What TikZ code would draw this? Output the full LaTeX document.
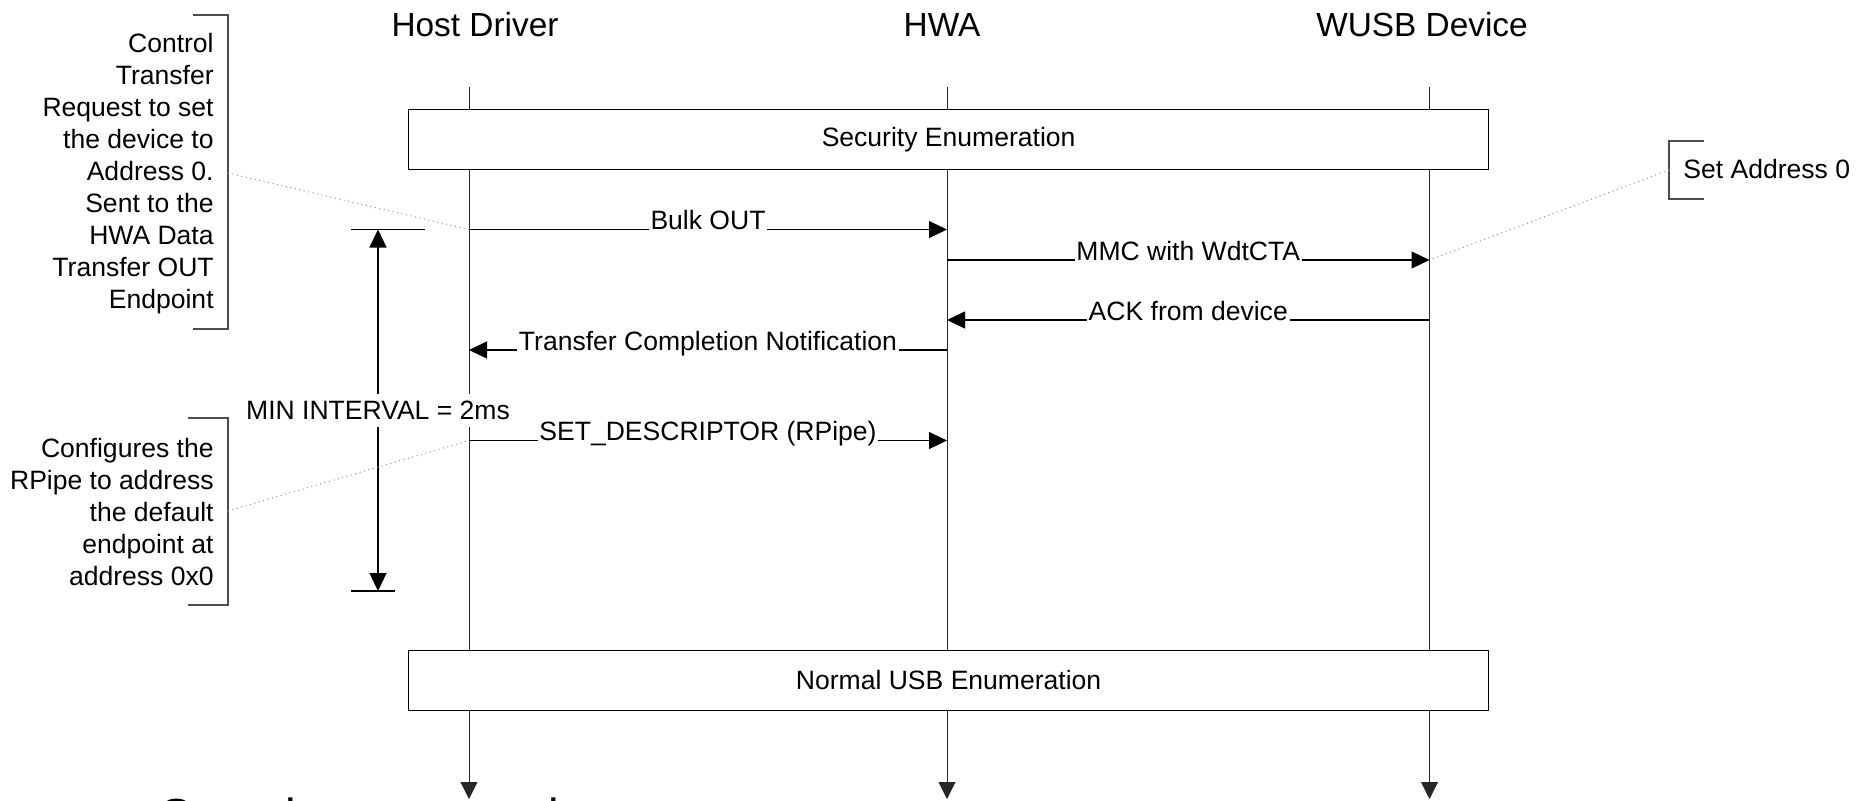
\documentclass[tikz,border=0pt]{standalone}
\usepackage{fontspec}
\setmainfont{Liberation Sans}
\usetikzlibrary{arrows.meta}

\begin{document}
\begin{tikzpicture}[x=0.2mm, y=-0.2mm,
    every node/.style={font=\fontsize{15.1}{18.2}\selectfont},
    head/.style={font=\fontsize{19}{22}\selectfont, anchor=base},
    msg/.style={line width=0.6pt, -{Triangle[length=3.6mm, width=3.4mm]}},
    life/.style={line width=0.5pt, black!85, -{Triangle[length=3.4mm, width=3.4mm]}},
    lbl/.style={fill=white, inner xsep=1pt, inner ysep=1.2pt, anchor=base},
    phase/.style={draw, fill=white, line width=0.6pt, minimum width=21.6cm, minimum height=1.19cm},
    brk/.style={draw=black!70, line width=0.6pt},
    note/.style={black!40, dotted, line width=0.6pt},
    side/.style={anchor=east, align=right, inner sep=0pt}]
    \clip (0,0) rectangle (1857,800);

    \node[head] (host) at (475,36.5) {Host Driver};
    \node[head] (hwa) at (942,36.5) {HWA};
    \node[head] (dev) at (1422,36.5) {WUSB Device};

    \coordinate (hl0) at (469,87);
    \coordinate (hl1) at (469,799);
    \coordinate (al0) at (947,87);
    \coordinate (al1) at (947,799);
    \coordinate (dl0) at (1429.5,87);
    \coordinate (dl1) at (1429.5,799);
    \draw[life] (hl0) -- (hl1);
    \draw[life] (al0) -- (al1);
    \draw[life] (dl0) -- (dl1);

    \node[phase] (sec) at (948.6,139.7) {Security Enumeration};
    \node[phase] (usb) at (948.6,680.3) {Normal USB Enumeration};

    \coordinate (m1) at (0,229.5);
    \coordinate (m2) at (0,260);
    \coordinate (m3) at (0,320);
    \coordinate (m4) at (0,350);
    \coordinate (m5) at (0,440.5);
    \draw[msg] (hl0 |- m1) -- (al0 |- m1) node[lbl, midway] {Bulk OUT};
    \draw[msg] (al0 |- m2) -- (dl0 |- m2) node[lbl, midway] {MMC with WdtCTA};
    \draw[msg] (dl0 |- m3) -- (al0 |- m3) node[lbl, midway] {ACK from device};
    \draw[msg] (al0 |- m4) -- (hl0 |- m4) node[lbl, midway] {Transfer Completion Notification};
    \draw[msg] (hl0 |- m5) -- (al0 |- m5) node[lbl, midway] {SET\_DESCRIPTOR (RPipe)};

    \draw[line width=0.6pt] (351,229.5) -- (425,229.5);
    \draw[line width=0.6pt] (351,591) -- (395,591);
    \coordinate (iv0) at (378,229.5);
    \coordinate (iv1) at (378,591);
    \draw[line width=0.6pt, {Triangle[length=3.6mm, width=3.4mm]}-{Triangle[length=3.6mm, width=3.4mm]}] (iv0) -- (iv1)
        node[midway, fill=white, inner xsep=1pt, inner ysep=4pt] (iv) {MIN INTERVAL = 2ms};

    \node[side] (n1) at (214,174) {Control\\Transfer\\Request to set\\the device to\\Address 0.\\Sent to the\\HWA Data\\Transfer OUT\\Endpoint};
    \draw[brk] (193,15) -- (228,15) -- (228,329) -- (193,329);
    \coordinate (b1) at (228,173);
    \draw[note] (b1) -- (hl0 |- m1);

    \node[side] (n2) at (214,512) {Configures the\\RPipe to address\\the default\\endpoint at\\address 0x0};
    \draw[brk] (188,418) -- (228,418) -- (228,605) -- (188,605);
    \coordinate (b2) at (228,511);
    \draw[note] (b2) -- (hl0 |- m5);

    \node[anchor=base west, inner sep=0pt] (n3) at (1683,178.3) {Set Address 0};
    \draw[brk] (1704,141) -- (1669,141) -- (1669,199) -- (1704,199);
    \coordinate (b3) at (1669,170);
    \draw[note] (b3) -- (dl0 |- m2);

    \node[font=\fontsize{27.2}{32}\selectfont, anchor=base west, inner sep=0pt] (cap) at (160,832) {Security enumeration};
\end{tikzpicture}
\end{document}
